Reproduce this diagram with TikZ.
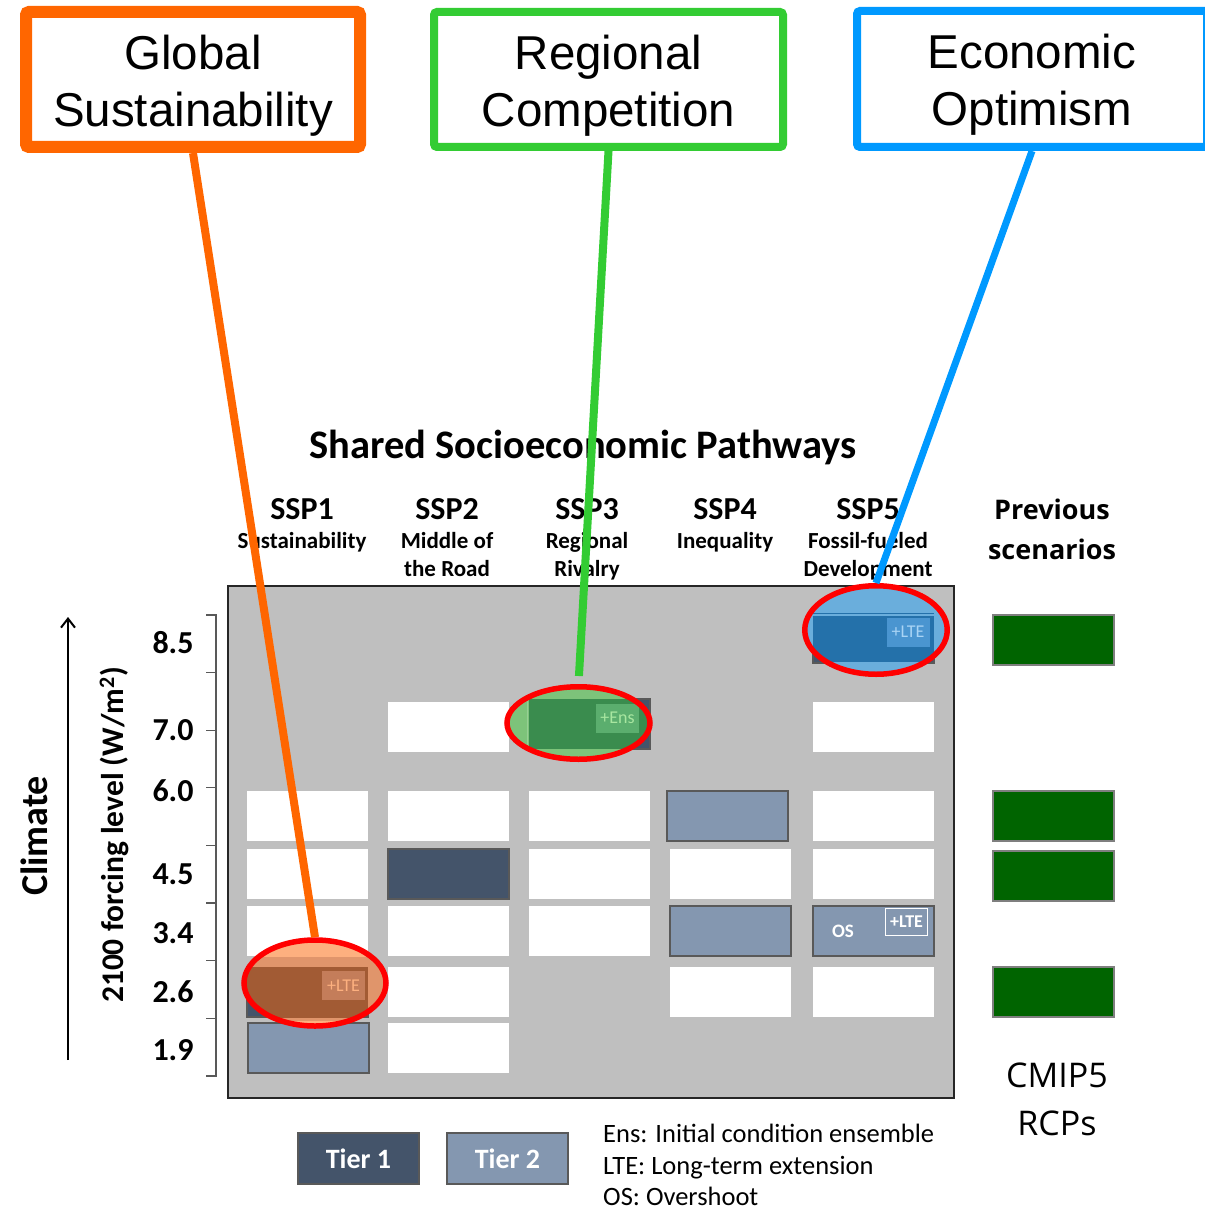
\documentclass[tikz,border=0pt]{standalone}
\usepackage{fontspec}
\setmainfont{Carlito}
\newfontfamily\arialfam{Liberation Sans}
\newfontfamily\opensansfam{Open Sans}
\usetikzlibrary{shapes.geometric,arrows.meta}
\newcommand\setfs[2]{\fontsize{#1}{#2}\selectfont}
\definecolor{tierone}{HTML}{44546A}
\definecolor{tiertwo}{HTML}{8497B0}
\definecolor{tierborder}{HTML}{595959}
\definecolor{panelgray}{HTML}{BFBFBF}
\definecolor{panelborder}{HTML}{262626}
\definecolor{cOrange}{HTML}{FF6600}
\definecolor{cGreen}{HTML}{33CC33}
\definecolor{cBlue}{HTML}{0099FF}
\definecolor{rcpgreen}{HTML}{006400}
\definecolor{rcpborder}{HTML}{7F7F7F}
\definecolor{hoLight}{HTML}{FDB07F}
\definecolor{hoMid}{HTML}{E0956B}
\definecolor{hoDark}{HTML}{A25B34}
\definecolor{hoLab}{HTML}{C47D5A}
\definecolor{hgLight}{HTML}{7DC37A}
\definecolor{hgDark}{HTML}{3A8C4E}
\definecolor{hgLab}{HTML}{5BAE6E}
\definecolor{hgText}{HTML}{A8E6A0}
\definecolor{hbLight}{HTML}{6AAEDC}
\definecolor{hbDark}{HTML}{2471AA}
\definecolor{hbLab}{HTML}{4A95D0}
\definecolor{hbText}{HTML}{A9D4F5}
\begin{document}
\begin{tikzpicture}[x=1pt,y=-1pt,
  cell/.style={anchor=north west,minimum width=121pt,minimum height=50pt,inner sep=0pt,outer sep=0pt},
  wcell/.style={cell,fill=white},
  tonecell/.style={cell,fill=tierone,draw=tierborder,line width=1.2pt},
  ttwocell/.style={cell,fill=tiertwo,draw=tierborder,line width=1.6pt},
  rcpbox/.style={cell,fill=rcpgreen,draw=rcpborder,line width=1.5pt},
  titlebox/.style={draw,fill=white,rounded corners=3pt,minimum height=135pt,inner sep=0pt},
  titletext/.style={yshift=-6pt,align=center,inner sep=0pt,font=\arialfam\setfs{47.5}{57}},
  hlring/.style={ellipse,draw=red,line width=5.5pt,inner sep=0pt},
  numlbl/.style={font=\bfseries\setfs{32}{36},inner sep=0pt},
  sspname/.style={font=\bfseries\setfs{32}{36},anchor=base,inner sep=0pt},
  sspsub/.style={font=\bfseries\setfs{23}{28},anchor=base,inner sep=0pt},
  ltelabel/.style={minimum width=43pt,minimum height=29pt,inner sep=0pt,font=\setfs{18}{20}},
  legtxt/.style={anchor=base west,inner sep=0pt,text depth=0pt,font=\setfs{26.5}{30}},
  legbox/.style={minimum width=121pt,minimum height=51pt,inner sep=0pt,draw=tierborder,line width=1.2pt,text=white,font=\bfseries\setfs{28}{32}},
  axtick/.style={draw=tierborder,line width=1.2pt}
]
\useasboundingbox (0,0) rectangle (1204,1209);

% title boxes
\node[titlebox,draw=cOrange,line width=12pt,minimum width=334pt,label={[titletext]center:Global\\Sustainability}] (gs) at (193,79.5) {};
\node[titlebox,draw=cGreen,line width=8pt,minimum width=349pt,label={[titletext]center:Regional\\Competition}] (rc) at (608.5,79.5) {};
\node[titlebox,draw=cBlue,line width=8pt,minimum width=350pt,minimum height=136pt,label={[titletext]center:Economic\\Optimism}] (eo) at (1032,79) {};

% headers
\node[font=\bfseries\setfs{40.5}{44},anchor=base,inner sep=0pt] (ssptitle) at (583,458) {Shared Socioeconomic Pathways};
\node[sspname] (h1) at (302,519) {SSP1};
\node[sspname] (h2) at (447,519) {SSP2};
\node[sspname] (h3) at (587,519) {SSP3};
\node[sspname] (h4) at (725,519) {SSP4};
\node[sspname] (h5) at (868,519) {SSP5};
\node[sspsub] (s1) at (302,548) {Sustainability};
\node[sspsub] (s2a) at (447,548) {Middle of};
\node[sspsub] (s2b) at (447,576) {the Road};
\node[sspsub] (s3a) at (587,548) {Regional};
\node[sspsub] (s3b) at (587,576) {Rivalry};
\node[sspsub] (s4) at (725,548) {Inequality};
\node[sspsub] (s5a) at (868,548) {Fossil-fueled};
\node[sspsub] (s5b) at (868,576) {Development};
\node[font=\opensansfam\bfseries\setfs{27}{40},align=center,inner sep=0pt] (prev) at (1052,529) {Previous\\scenarios};

% axis
\node[font=\bfseries\setfs{38}{42},rotate=90,inner sep=0pt] (climate) at (34,836) {Climate};
\node[font=\bfseries\setfs{31.5}{35},rotate=90,inner sep=0pt] (forcing) at (114,835) {2100 forcing level (W/m\textsuperscript{2})};
\coordinate (arrB) at (68,1060);
\coordinate (arrT) at (68,617);
\draw[line width=2pt,-{Straight Barb[length=9pt,width=14pt]}] (arrB) -- (arrT);
\draw[axtick] (206,615) -- (216,615) -- (216,1076) -- (206,1076);
\foreach \k in {1,...,7}{\draw[axtick] (206,615+57.6*\k) -- (216,615+57.6*\k);}
\node[numlbl] (v85) at (173,643) {8.5};
\node[numlbl] (v70) at (173,730) {7.0};
\node[numlbl] (v60) at (173,791) {6.0};
\node[numlbl] (v45) at (173,874) {4.5};
\node[numlbl] (v34) at (173,933) {3.4};
\node[numlbl] (v26) at (173,992) {2.6};
\node[numlbl] (v19) at (173,1050) {1.9};

% panel
\node[anchor=north west,minimum width=726pt,minimum height=512pt,fill=panelgray,draw=panelborder,line width=2pt,inner sep=0pt] (panel) at (227,585) {};

% cells: columns 247,388,529,669,813 ; rows 613,702,791,849,906,967,1023
\node[tonecell] (c5r85) at (813,613) {};
\node[wcell] (c2r70) at (388,702) {};
\node[tonecell] (c3r70) at (529,699) {};
\node[wcell] (c5r70) at (813,702) {};
\node[wcell] (c1r60) at (247,791) {};
\node[wcell] (c2r60) at (388,791) {};
\node[wcell] (c3r60) at (529,791) {};
\node[ttwocell] (c4r60) at (667,791) {};
\node[wcell] (c5r60) at (813,791) {};
\node[wcell] (c1r45) at (247,849) {};
\node[tonecell] (c2r45) at (388,849) {};
\node[wcell] (c3r45) at (529,849) {};
\node[wcell] (c4r45) at (670,849) {};
\node[wcell] (c5r45) at (813,849) {};
\node[wcell] (c1r34) at (247,906) {};
\node[wcell] (c2r34) at (388,906) {};
\node[wcell] (c3r34) at (529,906) {};
\node[ttwocell] (c4r34) at (670,906) {};
\node[ttwocell] (c5r34) at (813,906) {};
\node[tonecell] (c1r26) at (247,967) {};
\node[wcell] (c2r26) at (388,967) {};
\node[wcell] (c4r26) at (670,967) {};
\node[wcell] (c5r26) at (813,967) {};
\node[ttwocell] (c1r19) at (248,1023) {};
\node[wcell] (c2r19) at (388,1023) {};

% OS cell content
\node[font=\bfseries\setfs{19}{21},text=white,inner sep=0pt] (os) at (843,931) {OS};
\node[draw=white,line width=1.5pt,minimum width=42pt,minimum height=27pt,inner sep=0pt,font=\bfseries\setfs{18}{20},text=white] (oslte) at (906.5,922) {+LTE};

% previous scenarios
\node[rcpbox] (rcp85) at (993,615) {};
\node[rcpbox] (rcp60) at (993,791) {};
\node[rcpbox] (rcp45) at (993,851) {};
\node[rcpbox] (rcp26) at (993,967) {};
\node[font=\opensansfam\setfs{34}{48},align=center,inner sep=0pt] (cmip) at (1057,1099) {CMIP5\\RCPs};

% highlight orange (SSP1-2.6)
\begin{scope}
  \clip (315,983) ellipse [x radius=72, y radius=45];
  \fill[hoLight] (238,935) rectangle (392,1031);
  \fill[hoMid] (238,957) rectangle (395,1021);
  \fill[hoDark] (247,967) rectangle (368,1018);
\end{scope}
\node[ltelabel,fill=hoLab,text=hoLight] (lteO) at (343.5,985.5) {+LTE};
\node[hlring,minimum width=142pt,minimum height=86pt] (ellO) at (315,983) {};

% highlight green (SSP3-7.0)
\begin{scope}
  \clip (578.5,723) ellipse [x radius=73, y radius=38];
  \fill[hgLight] (500,680) rectangle (656,766);
  \fill[hgDark] (529,699) rectangle (656,749);
\end{scope}
\draw[hgLight!80!white,line width=1.5pt] (527.5,699) -- (527.5,749);
\node[ltelabel,fill=hgLab,text=hgText] (ensG) at (617.5,718) {+Ens};
\node[hlring,minimum width=143pt,minimum height=72.5pt] (ellG) at (578.5,723) {};

% highlight blue (SSP5-8.5)
\begin{scope}
  \clip (876,630) ellipse [x radius=72, y radius=45];
  \fill[hbLight] (800,580) rectangle (952,680);
  \fill[hbDark] (813,613) rectangle (934,662);
  \draw[hbLight,line width=1.5pt] (813,615) -- (934,615);
\end{scope}
\node[ltelabel,fill=hbLab,text=hbText] (lteB) at (908,632) {+LTE};
\node[hlring,minimum width=142.5pt,minimum height=88.5pt] (ellB) at (876,630) {};

% legend
\node[legbox,fill=tierone] (leg1) at (358.5,1158.5) {Tier 1};
\node[legbox,fill=tiertwo] (leg2) at (507.5,1158.5) {Tier 2};
\node[legtxt] (legEns) at (603,1142) {Ens: Initial condition ensemble};
\node[legtxt] (legLTE) at (603,1174) {LTE: Long-term extension};
\node[legtxt] (legOS) at (603,1205) {OS: Overshoot};

% connectors
\draw[cOrange,line width=8pt] (gs.south) -- (ellO.north);
\draw[cGreen,line width=8pt,shorten >=8pt] (rc.south) -- (ellG.north);
\draw[cBlue,line width=7pt] (eo.south) -- (ellB.north);
\end{tikzpicture}
\end{document}
